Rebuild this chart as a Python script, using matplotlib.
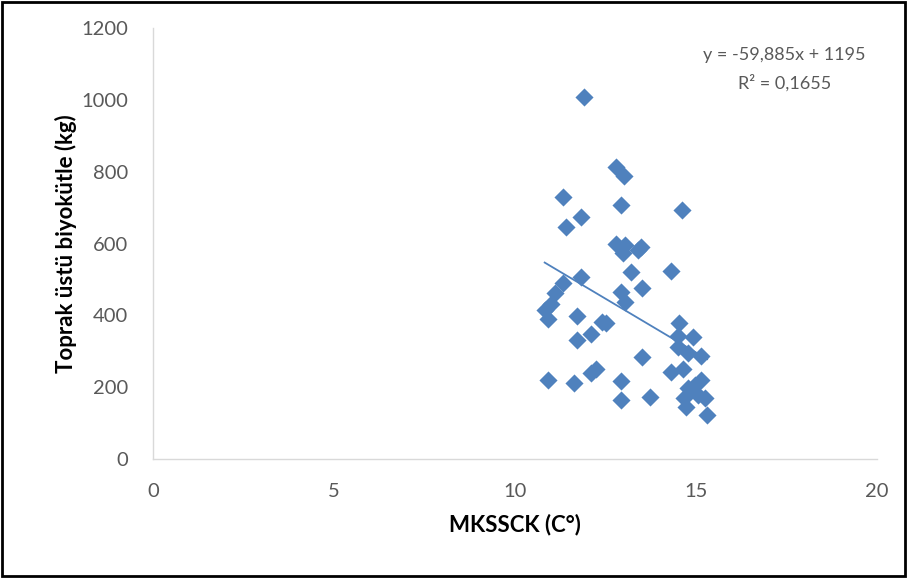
import numpy as np
import matplotlib
matplotlib.use("Agg")
import matplotlib.pyplot as plt

plt.rcParams['font.family'] = ['Lato', 'DejaVu Sans']

# MKSSCK (C°) ve toprak üstü biyokütle (kg)
sicaklik = [11.92, 12.80, 13.02, 11.33, 12.92, 14.62, 11.82, 11.42,
            12.80, 13.03, 12.98, 13.49, 13.40, 13.21, 14.32, 11.81,
            11.33, 11.10, 11.00, 10.82, 10.92, 12.94, 13.03, 13.51,
            11.72, 12.39, 12.52, 12.11, 11.72, 14.52, 14.50, 14.92,
            14.50, 14.78, 15.13, 13.51, 14.32, 14.64, 10.92, 11.62,
            12.11, 12.25, 12.92, 12.92, 13.72, 15.13, 14.96, 14.78,
            15.24, 15.05, 14.68, 14.73, 15.31]
biyokutle = [1009, 812, 788, 729, 707, 693, 674, 647,
             600, 596, 573, 591, 582, 521, 524, 506,
             489, 461, 433, 415, 389, 466, 438, 475,
             398, 382, 378, 347, 331, 380, 342, 340,
             311, 294, 287, 283, 243, 252, 220, 213,
             239, 250, 218, 164, 172, 220, 206, 197,
             169, 178, 169, 146, 122]

egim = -59.885
kesim = 1195
denklem = "y = -59,885x + 1195"
r2_metni = "R² = 0,1655"

mavi = "#4F81BD"
gri = "#595959"

fig = plt.figure(figsize=(9.07, 5.78), dpi=100)
ax = fig.add_axes([0.1687, 0.2058, 0.7982, 0.7457])

ax.scatter(sicaklik, biyokutle, marker='D', s=85, color=mavi, zorder=3, linewidths=0)

# doğrusal eğilim çizgisi
xs = np.array([min(sicaklik), max(sicaklik)])
ax.plot(xs, egim * xs + kesim, color=mavi, linewidth=1.3, zorder=2)

ax.set_xlim(0, 20)
ax.set_ylim(0, 1200)
ax.set_xticks([0, 5, 10, 15, 20])
ax.set_yticks(range(0, 1201, 200))
ax.tick_params(length=0, labelsize=14.5, colors=gri)
ax.tick_params(axis='x', pad=17)
ax.tick_params(axis='y', pad=18)

for s in ['top', 'right']:
    ax.spines[s].set_visible(False)
for s in ['left', 'bottom']:
    ax.spines[s].set_color("#D9D9D9")
    ax.spines[s].set_linewidth(1.0)

ax.set_xlabel("MKSSCK (C°)", fontsize=16, fontweight='bold', labelpad=10)
ax.set_ylabel("Toprak üstü biyokütle (kg)", fontsize=16, fontweight='bold', labelpad=3)

ax.text(17.45, 1124, denklem, ha='center', va='center', fontsize=13, color=gri)
ax.text(17.45, 1047, r2_metni, ha='center', va='center', fontsize=13, color=gri)

# dış çerçeve
fig.patches.append(plt.Rectangle((0.002, 0.003), 0.996, 0.994, transform=fig.transFigure,
                                 fill=False, edgecolor='black', linewidth=2))

fig.savefig("out.png", dpi=100)
